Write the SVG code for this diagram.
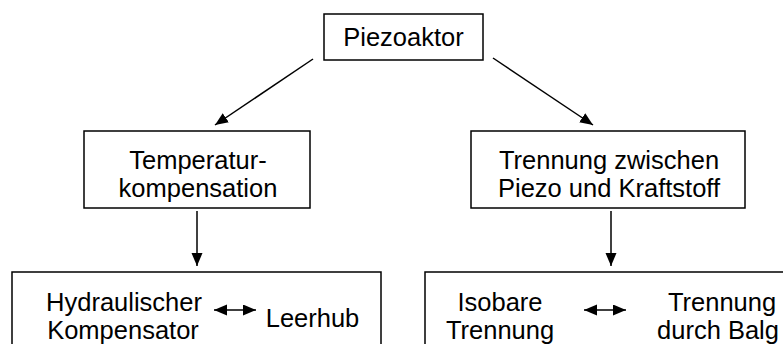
<svg xmlns="http://www.w3.org/2000/svg" width="783" height="344" viewBox="0 0 783 344">
<style>
  .box { fill: #fff; stroke: #000; stroke-width: 1.5; }
  .t { font-family: "Liberation Sans", Arial, sans-serif; font-size: 25.5px; fill: #000; text-anchor: middle; }
  .c { stroke: #000; stroke-width: 1.5; fill: none; }
</style>
<defs>
  <marker id="ah" markerUnits="userSpaceOnUse" markerWidth="14" markerHeight="12" refX="13" refY="5.5" orient="auto-start-reverse" viewBox="0 0 14 12">
    <path d="M0,0 L13,5.5 L0,11 Z" fill="#000"/>
  </marker>
</defs>
<rect width="783" height="344" fill="#fff"/>
<g id="connectors">
  <line class="c" x1="313" y1="59" x2="215" y2="125" marker-end="url(#ah)"/>
  <line class="c" x1="493" y1="58" x2="593" y2="125" marker-end="url(#ah)"/>
  <line class="c" x1="197" y1="211" x2="197" y2="266" marker-end="url(#ah)"/>
  <line class="c" x1="611" y1="211" x2="611" y2="266" marker-end="url(#ah)"/>
</g>
<g id="piezoaktor">
  <rect class="box" x="324" y="14" width="159" height="46"/>
  <text class="t" x="403.5" y="46">Piezoaktor</text>
</g>
<g id="temperaturkompensation">
  <rect class="box" x="84" y="131" width="226" height="77"/>
  <text class="t" x="198" y="169">Temperatur-</text>
  <text class="t" x="198" y="197">kompensation</text>
</g>
<g id="trennung">
  <rect class="box" x="471" y="131" width="274" height="77"/>
  <text class="t" x="609" y="169">Trennung zwischen</text>
  <text class="t" x="609" y="197">Piezo und Kraftstoff</text>
</g>
<g id="hydraulisch">
  <rect class="box" x="12" y="272" width="369" height="90"/>
  <text class="t" x="124" y="311">Hydraulischer</text>
  <text class="t" x="123" y="339">Kompensator</text>
  <line class="c" x1="214" y1="310" x2="256" y2="310" marker-start="url(#ah)" marker-end="url(#ah)"/>
  <text class="t" x="312.5" y="327">Leerhub</text>
</g>
<g id="isobar">
  <rect class="box" x="425" y="272" width="370" height="90"/>
  <text class="t" x="500" y="311">Isobare</text>
  <text class="t" x="500" y="339">Trennung</text>
  <line class="c" x1="584" y1="310" x2="626" y2="310" marker-start="url(#ah)" marker-end="url(#ah)"/>
  <text class="t" x="722" y="311">Trennung</text>
  <text class="t" x="718" y="339">durch Balg</text>
</g>
</svg>
